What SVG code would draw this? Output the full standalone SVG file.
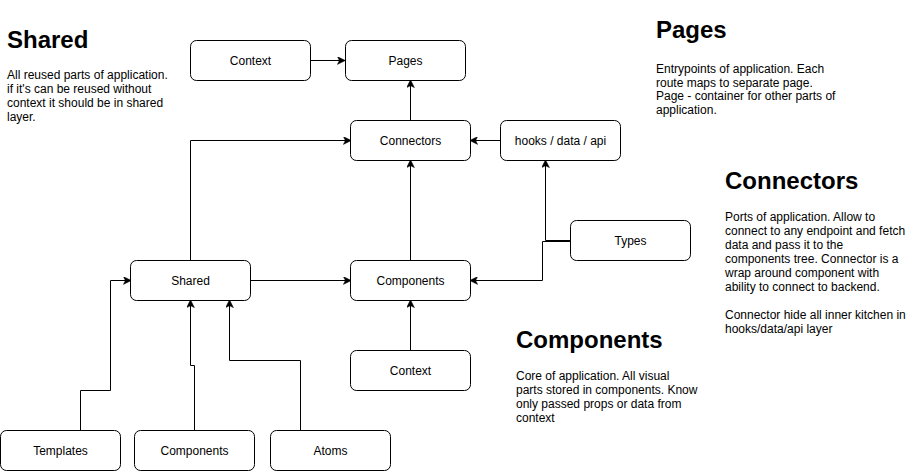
<svg xmlns="http://www.w3.org/2000/svg" width="911" height="471" viewBox="0 0 911 471">
<style>
.node rect{fill:#fff;stroke:#000;stroke-width:1}
.node text{font-family:"Liberation Sans",Arial,sans-serif;font-size:12px;fill:#000;text-anchor:middle;dominant-baseline:central}
.edges path{fill:none;stroke:#000;stroke-width:1}
.h{font-family:"Liberation Sans",Arial,sans-serif;font-size:24px;font-weight:bold;fill:#000}
.b{font-family:"Liberation Sans",Arial,sans-serif;font-size:12px;fill:#000}
</style>
<defs>
<marker id="arr" viewBox="0 0 10 10" refX="9" refY="5" markerWidth="8" markerHeight="8" markerUnits="userSpaceOnUse" orient="auto">
<path d="M0,0 L10,5 L0,10 L2.5,5 Z" fill="#000" stroke="#000" stroke-width="0.5"/>
</marker>
</defs>
<rect width="911" height="471" fill="#fff"/>
<g class="edges">
<path d="M310.5,60.5 L344.5,60.5" marker-end="url(#arr)"/>
<path d="M410.5,120.5 L410.5,80.5" marker-end="url(#arr)"/>
<path d="M500.5,140.5 L470.5,140.5" marker-end="url(#arr)"/>
<path d="M190.5,260.5 L190.5,140.5 L350.5,140.5" marker-end="url(#arr)"/>
<path d="M410.5,260.5 L410.5,160.5" marker-end="url(#arr)"/>
<path d="M250.5,280.5 L350.5,280.5" marker-end="url(#arr)"/>
<path d="M410.5,350.5 L410.5,300.5" marker-end="url(#arr)"/>
<path d="M570.5,240.5 L545.5,240.5 L545.5,160.5" marker-end="url(#arr)"/>
<path d="M570.5,241.5 L542.5,241.5 L542.5,280.5 L470.5,280.5" marker-end="url(#arr)"/>
<path d="M80.5,430.5 L80.5,390.5 L110.5,390.5 L110.5,280.5 L130.5,280.5" marker-end="url(#arr)"/>
<path d="M194.5,430.5 L194.5,365.5 L190.5,365.5 L190.5,300.5" marker-end="url(#arr)"/>
<path d="M300.5,430.5 L300.5,360.5 L229.5,360.5 L229.5,300.5" marker-end="url(#arr)"/>
</g>
<g id="node-context-top" class="node"><rect x="190.5" y="40.5" width="120" height="40" rx="6"/><text x="250.5" y="60.5">Context</text></g>
<g id="node-pages" class="node"><rect x="345.5" y="40.5" width="120" height="40" rx="6"/><text x="405.5" y="60.5">Pages</text></g>
<g id="node-connectors" class="node"><rect x="350.5" y="120.5" width="120" height="40" rx="6"/><text x="410.5" y="140.5">Connectors</text></g>
<g id="node-hooks" class="node"><rect x="500.5" y="120.5" width="120" height="40" rx="6"/><text x="560.5" y="140.5">hooks / data / api</text></g>
<g id="node-types" class="node"><rect x="570.5" y="220.5" width="120" height="40" rx="6"/><text x="630.5" y="240.5">Types</text></g>
<g id="node-shared" class="node"><rect x="130.5" y="260.5" width="120" height="40" rx="6"/><text x="190.5" y="280.5">Shared</text></g>
<g id="node-components" class="node"><rect x="350.5" y="260.5" width="120" height="40" rx="6"/><text x="410.5" y="280.5">Components</text></g>
<g id="node-context-bottom" class="node"><rect x="350.5" y="350.5" width="120" height="40" rx="6"/><text x="410.5" y="370.5">Context</text></g>
<g id="node-templates" class="node"><rect x="0.5" y="430.5" width="120" height="40" rx="6"/><text x="60.5" y="450.5">Templates</text></g>
<g id="node-components-shared" class="node"><rect x="134.5" y="430.5" width="120" height="40" rx="6"/><text x="194.5" y="450.5">Components</text></g>
<g id="node-atoms" class="node"><rect x="270.5" y="430.5" width="120" height="40" rx="6"/><text x="330.5" y="450.5">Atoms</text></g>
<g id="text-shared">
<text class="h" x="7" y="48">Shared</text>
<text class="b" x="7" y="79">All reused parts of application.</text>
<text class="b" x="7" y="93">if it's can be reused without</text>
<text class="b" x="7" y="107">context it should be in shared</text>
<text class="b" x="7" y="121">layer.</text>
</g>
<g id="text-pages">
<text class="h" x="656" y="38">Pages</text>
<text class="b" x="656" y="73">Entrypoints of application. Each</text>
<text class="b" x="656" y="86.5">route maps to separate page.</text>
<text class="b" x="656" y="100">Page - container for other parts of</text>
<text class="b" x="656" y="113.5">application.</text>
</g>
<g id="text-connectors">
<text class="h" x="725" y="189">Connectors</text>
<text class="b" x="725" y="221">Ports of application. Allow to</text>
<text class="b" x="725" y="235">connect to any endpoint and fetch</text>
<text class="b" x="725" y="249">data and pass it to the</text>
<text class="b" x="725" y="263">components tree. Connector is a</text>
<text class="b" x="725" y="277">wrap around component with</text>
<text class="b" x="725" y="291">ability to connect to backend.</text>
<text class="b" x="725" y="319">Connector hide all inner kitchen in</text>
<text class="b" x="725" y="333">hooks/data/api layer</text>
</g>
<g id="text-components">
<text class="h" x="516" y="348">Components</text>
<text class="b" x="516" y="380">Core of application. All visual</text>
<text class="b" x="516" y="394">parts stored in components. Know</text>
<text class="b" x="516" y="408">only passed props or data from</text>
<text class="b" x="516" y="422">context</text>
</g>
</svg>
